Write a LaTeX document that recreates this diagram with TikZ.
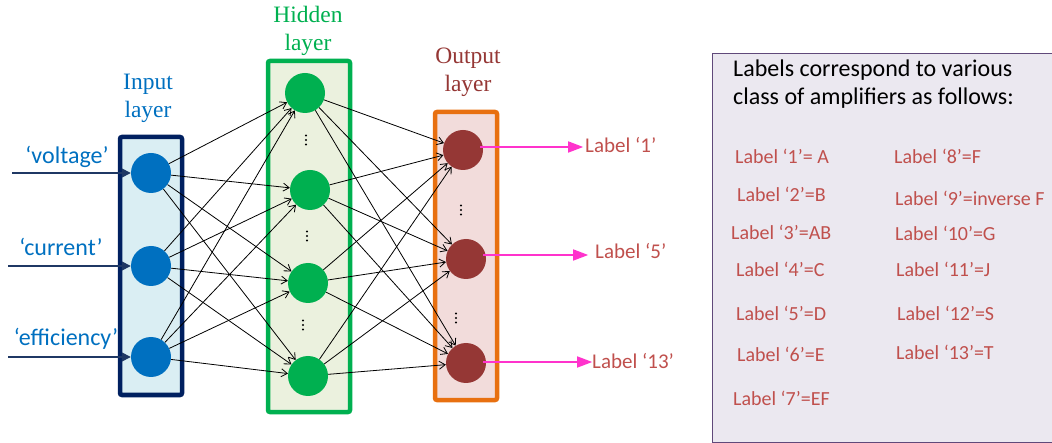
\documentclass[tikz,border=0pt]{standalone}
\usepackage{fontspec}
\setmainfont{Carlito}
\newfontfamily\layerfont{Liberation Serif}
\usetikzlibrary{arrows.meta, positioning, calc}
\definecolor{inblue}{RGB}{0, 112, 192}
\definecolor{innavy}{RGB}{0, 32, 96}
\definecolor{feednavy}{RGB}{31, 56, 100}
\definecolor{hidgreen}{RGB}{0, 176, 80}
\definecolor{outbrown}{RGB}{149, 55, 53}
\definecolor{outorange}{RGB}{232, 112, 16}
\definecolor{labred}{RGB}{192, 80, 77}
\definecolor{outpink}{RGB}{255, 51, 204}
\definecolor{infill}{RGB}{218, 238, 243}
\definecolor{hidfill}{RGB}{235, 241, 222}
\definecolor{outfill}{RGB}{242, 220, 219}
\definecolor{notefill}{RGB}{235, 232, 240}
\definecolor{noteedge}{RGB}{96, 73, 122}
\tikzset{
  layerbox/.style={draw=#1, line width=4.5pt, rounded corners=2pt, inner sep=0pt},
  neuron/.style={circle, fill=#1, minimum size=40pt, inner sep=0pt},
  layertitle/.style={font=\layerfont\fontsize{23.5}{28}\selectfont, align=center, text=#1},
  link/.style={line width=0.8pt, -{Straight Barb[length=6pt, width=8pt]}},
  feed/.style={draw=feednavy, line width=1.5pt, -{Triangle[length=9pt, width=9pt]}},
  outlink/.style={draw=outpink, line width=1.6pt, -{Triangle[length=15pt, width=11pt]}},
  feature/.style={font=\fontsize{24}{26}\selectfont, text=inblue},
  classlab/.style={font=\fontsize{20}{22}\selectfont, text=labred, anchor=west, inner sep=0pt},
  outlab/.style={font=\fontsize{21}{22}\selectfont, text=labred, anchor=west, inner sep=0pt}
}

\begin{document}
\begin{tikzpicture}[x=1pt, y=-1pt]
  \useasboundingbox (0,0) rectangle (1052,443);

  % layer boxes
  \node[layerbox=innavy, fill=infill, minimum width=62pt, minimum height=258pt] (inbox) at (151,266) {};
  \node[layerbox=hidgreen, fill=hidfill, minimum width=82pt, minimum height=351pt] (hidbox) at (309,236.5) {};
  \node[layerbox=outorange, fill=outfill, minimum width=62pt, minimum height=288pt] (outbox) at (466,256) {};

  \node[layertitle=inblue] (intitle) at (148,98) {Input\\layer};
  \node[layertitle=hidgreen] (hidtitle) at (308,31) {Hidden\\layer};
  \node[layertitle=outbrown] (outtitle) at (468,72) {Output\\layer};

  % neurons
  \node[neuron=inblue] (i1) at (151,173) {};
  \node[neuron=inblue] (i2) at (151,266) {};
  \node[neuron=inblue] (i3) at (151,357) {};

  \node[neuron=hidgreen] (h1) at (305,93) {};
  \node[neuron=hidgreen] (h2) at (310,190) {};
  \node[neuron=hidgreen] (h3) at (308,283) {};
  \node[neuron=hidgreen] (h4) at (308,376) {};

  \node[neuron=outbrown] (o1) at (463,150) {};
  \node[neuron=outbrown] (o2) at (466,259) {};
  \node[neuron=outbrown] (o3) at (466,363) {};

  % skipped neurons
  \coordinate (hd1) at (306,140);
  \coordinate (hd2) at (307,236);
  \coordinate (hd3) at (303,325);
  \coordinate (od1) at (461,210);
  \coordinate (od2) at (456,318);
  \foreach \p in {hd1,hd2,hd3,od1,od2}
    \foreach \d in {-4.5,0,4.5}
      \fill ($(\p)+(0,\d)$) circle (1.1pt);

  % connections
  \foreach \a in {1,2,3}
    \foreach \b in {1,2,3,4}
      \draw[link] (i\a) -- (h\b);
  \foreach \b in {1,2,3,4}
    \foreach \c in {1,2,3}
      \draw[link] (h\b) -- (o\c);

  % inputs
  \coordinate (in1) at (12,173);
  \coordinate (in2) at (8,266);
  \coordinate (in3) at (8,357);
  \draw[feed] (in1) -- (i1);
  \draw[feed] (in2) -- (i2);
  \draw[feed] (in3) -- (i3);
  \node[feature] (volt) at (67,157) {‘voltage’};
  \node[feature] (curr) at (61,247) {‘current’};
  \node[feature] (effi) at (66,339) {‘efficiency’};

  % outputs
  \node[outlab] (lab1) at (585,145) {Label ‘1’};
  \node[outlab] (lab5) at (595,251) {Label ‘5’};
  \node[outlab] (lab13) at (592,361) {Label ‘13’};
  \draw[outlink] ([shift={(-3pt,3pt)}]o1.east) -- ++(103pt,0);
  \draw[outlink] ([shift={(-3pt,4pt)}]o2.east) -- ++(105pt,0);
  \draw[outlink] ([shift={(-3pt,1pt)}]o3.east) -- ++(109pt,0);

  % legend of classes
  \node[draw=noteedge, fill=notefill, line width=0.8pt, anchor=north west, minimum width=360pt, minimum height=389pt] (note) at (712,53) {};
  \node[anchor=west, inner sep=0pt, align=left, font=\fontsize{24}{28}\selectfont] (notetitle) at (733,84) {Labels correspond to various\\class of amplifiers as follows:};

  \node[classlab] (cl1) at (735,156) {Label ‘1’= A};
  \node[classlab] (cl2) at (737,194) {Label ‘2’=B};
  \node[classlab] (cl3) at (731,232) {Label ‘3’=AB};
  \node[classlab] (cl4) at (736,269) {Label ‘4’=C};
  \node[classlab] (cl5) at (736,313) {Label ‘5’=D};
  \node[classlab] (cl6) at (737,354) {Label ‘6’=E};
  \node[classlab] (cl7) at (733,398) {Label ‘7’=EF};
  \node[classlab] (cl8) at (894,156) {Label ‘8’=F};
  \node[classlab] (cl9) at (895,198) {Label ‘9’=inverse F};
  \node[classlab] (cl10) at (895,233) {Label ‘10’=G};
  \node[classlab] (cl11) at (896,269) {Label ‘11’=J};
  \node[classlab] (cl12) at (897,313) {Label ‘12’=S};
  \node[classlab] (cl13) at (896,352) {Label ‘13’=T};
\end{tikzpicture}
\end{document}
